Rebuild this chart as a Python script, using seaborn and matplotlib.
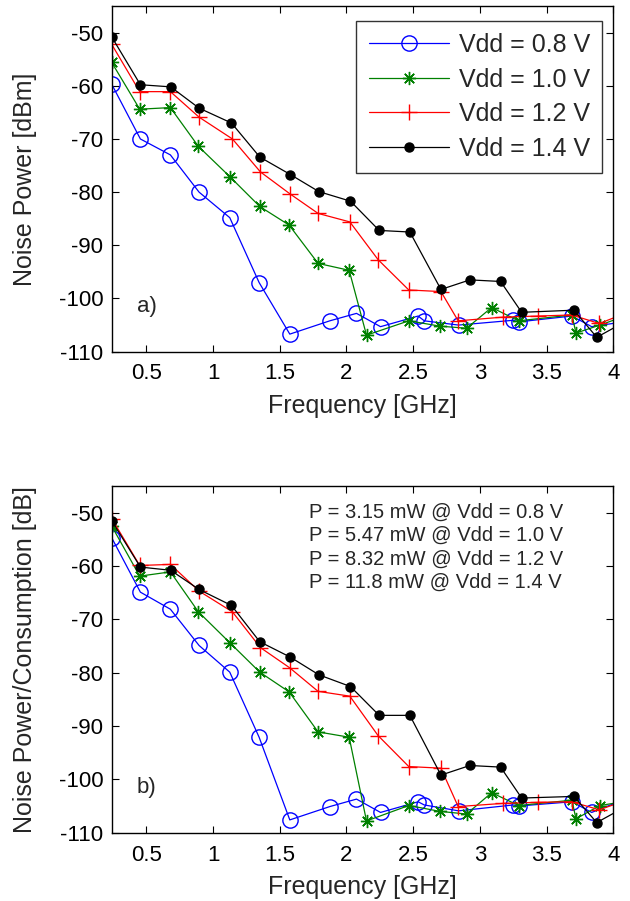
import matplotlib
matplotlib.use("Agg")
import matplotlib.pyplot as plt
import seaborn as sns

sns.set_style("ticks")
plt.rcParams['font.family'] = ['Liberation Sans', 'DejaVu Sans']
plt.rcParams['axes.unicode_minus'] = False

labels = ["Vdd = 0.8 V", "Vdd = 1.0 V", "Vdd = 1.2 V", "Vdd = 1.4 V"]
power_notes = ["P = 3.15 mW @ Vdd = 0.8 V", "P = 5.47 mW @ Vdd = 1.0 V",
               "P = 8.32 mW @ Vdd = 1.2 V", "P = 11.8 mW @ Vdd = 1.4 V"]

# frequencies [GHz] per supply voltage
f08 = [0.24, 0.455, 0.68, 0.895, 1.125, 1.345, 1.575, 1.875, 2.075, 2.255,
       2.537, 2.583, 2.84, 3.25, 3.29, 3.69, 3.838, 4.1]
f10 = [0.24, 0.45, 0.68, 0.89, 1.13, 1.35, 1.57, 1.787, 2.02, 2.15,
       2.467, 2.7, 2.9, 3.088, 3.29, 3.69, 3.72, 3.9, 4.1]
f12 = [0.24, 0.45, 0.68, 0.895, 1.145, 1.355, 1.575, 1.787, 2.025, 2.237,
       2.467, 2.708, 2.837, 3.175, 3.437, 3.687, 3.895, 4.1]
f14 = [0.24, 0.455, 0.682, 0.895, 1.138, 1.35, 1.58, 1.793, 2.03, 2.245,
       2.475, 2.708, 2.925, 3.155, 3.313, 3.705, 3.876, 4.1]

# a) noise power [dBm]
a08 = [-59.7, -70.0, -73.0, -80.0, -84.8, -97.0, -106.7, -104.2, -102.8, -105.3,
       -103.3, -104.2, -105.0, -104.1, -104.4, -103.3, -105.3, -104.3]
a10 = [-55.6, -64.4, -64.1, -71.4, -77.2, -82.7, -86.2, -93.4, -94.7, -106.9,
       -104.2, -105.2, -105.6, -101.7, -104.2, -103.1, -106.5, -105.0, -103.2]
a12 = [-52.2, -61.1, -61.1, -65.9, -70.0, -76.2, -80.3, -84.0, -85.6, -92.7,
       -98.4, -98.7, -104.2, -103.5, -103.3, -103.1, -104.7, -102.7]
a14 = [-50.8, -59.8, -60.2, -64.2, -67.0, -73.4, -76.7, -79.9, -81.7, -87.2,
       -87.5, -98.3, -96.5, -96.8, -102.6, -102.2, -107.3, -104.2]

# b) noise power / consumption [dB]
b08 = [-54.7, -64.9, -68.1, -74.9, -79.9, -92.1, -107.6, -105.1, -103.7, -106.2,
       -104.2, -104.8, -105.9, -104.8, -105.0, -104.2, -106.2, -103.6]
b10 = [-52.5, -61.9, -61.1, -68.6, -74.5, -79.9, -83.6, -91.1, -92.1, -107.8,
       -104.9, -106.0, -106.5, -102.5, -104.9, -103.9, -107.4, -104.9, -104.1]
b12 = [-51.1, -59.9, -59.7, -64.7, -68.6, -75.3, -79.1, -83.5, -84.4, -91.8,
       -97.6, -97.9, -105.1, -104.5, -104.3, -104.2, -105.7, -103.9]
b14 = [-51.5, -60.2, -60.8, -64.4, -67.4, -74.2, -77.1, -80.4, -82.6, -88.0,
       -88.0, -99.2, -97.4, -97.7, -103.5, -103.2, -108.1, -105.0]

colors = ["#0000ff", "#008000", "#ff0000", "#000000"]
markers = ["o", (8, 2, 0), "+", "o"]
msizes = [11, 9.5, 12, 6.5]
mfaces = ["none", "#008000", "#ff0000", "#000000"]

fig = plt.figure(figsize=(6.3, 9.01), dpi=100)
ax_a = fig.add_axes([0.1773, 0.6097, 0.7962, 0.3836])
ax_b = fig.add_axes([0.1773, 0.0758, 0.7962, 0.3848])

freqs = [f08, f10, f12, f14]
for ax, ys in [(ax_a, [a08, a10, a12, a14]), (ax_b, [b08, b10, b12, b14])]:
    for i in range(4):
        sns.lineplot(x=freqs[i], y=ys[i], ax=ax, sort=False, estimator=None,
                     color=colors[i], lw=0.9, marker=markers[i], markersize=msizes[i],
                     mec=colors[i], mfc=mfaces[i], mew=1.0, legend=False,
                     label=labels[i])
    ax.set_xlim(0.24, 4)
    ax.set_ylim(-110, -45)
    ax.set_xticks([0.5, 1, 1.5, 2, 2.5, 3, 3.5, 4])
    ax.set_xticklabels(["0.5", "1", "1.5", "2", "2.5", "3", "3.5", "4"])
    ax.set_yticks([-110, -100, -90, -80, -70, -60, -50])
    ax.tick_params(direction="in", top=True, right=True, length=5, width=0.8,
                   labelsize=16, colors="black")
    ax.tick_params(axis="x", pad=8.5)
    ax.tick_params(axis="y", pad=6)
    for s in ax.spines.values():
        s.set_visible(True)
        s.set_color("black")
        s.set_linewidth(1.0)
    ax.set_xlabel("Frequency [GHz]", fontsize=18, labelpad=7)

ax_a.set_ylabel("Noise Power [dBm]", fontsize=18)
ax_b.set_ylabel("Noise Power/Consumption [dB]", fontsize=18)
ax_a.yaxis.set_label_coords(-0.148, 0.5)
ax_b.yaxis.set_label_coords(-0.148, 0.5)

ax_a.text(0.05, 0.13, "a)", transform=ax_a.transAxes, fontsize=16, va="center")
ax_b.text(0.05, 0.13, "b)", transform=ax_b.transAxes, fontsize=16, va="center")

leg = ax_a.legend(handles=ax_a.get_lines()[:4], labels=labels, loc="upper right",
                  bbox_to_anchor=(0.978, 0.9575), borderaxespad=0, fontsize=18,
                  handlelength=3.2, handletextpad=0.4, labelspacing=0.42,
                  borderpad=0.5, fancybox=False, frameon=True)
leg.get_frame().set_edgecolor("black")
leg.get_frame().set_linewidth(1.0)

for k, note in enumerate(power_notes):
    ax_b.text(0.393, 0.925 - k * 0.0675, note, transform=ax_b.transAxes,
              fontsize=14.5, va="center", ha="left")

fig.savefig("out.png", dpi=100)
